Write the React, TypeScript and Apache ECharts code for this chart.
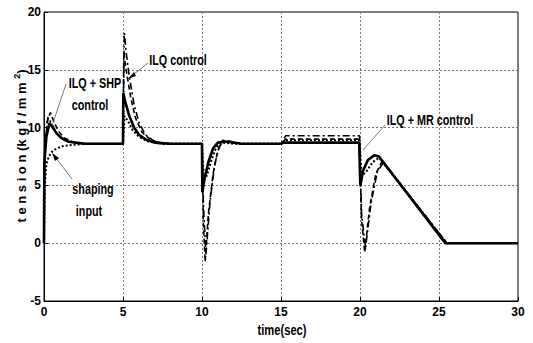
import React, { useEffect, useRef } from "react";
import * as echarts from "echarts";

const xTicks = [0, 5, 10, 15, 20, 25, 30];
const yTicks = [-5, 0, 5, 10, 15, 20];

// solid thick curve
const tSolid = [0, 0.02, 0.15, 0.35, 0.55, 0.8, 1.1, 1.5, 2.0, 2.6, 5.0, 5.02, 5.15, 5.4, 5.7, 6.0, 6.4, 7.0, 8.0, 10.0, 10.02, 10.15, 10.4, 10.7, 11.0, 11.5, 12.5, 15.0, 15.2, 19.95, 20.02, 20.2, 20.5, 20.9, 21.2, 25.4, 30];
const vSolid = [0, 6.9, 9.2, 10.4, 10.0, 9.5, 9.1, 8.8, 8.7, 8.6, 8.6, 13.0, 12.2, 11.0, 10.0, 9.4, 9.0, 8.7, 8.6, 8.6, 4.4, 5.5, 7.0, 8.2, 8.7, 8.8, 8.6, 8.6, 8.7, 8.7, 5.0, 6.3, 7.2, 7.6, 7.5, 0, 0];

// dashed curve
const tDashed = [0, 0.05, 0.2, 0.4, 0.6, 0.9, 1.3, 1.8, 2.5, 5.0, 5.05, 5.2, 5.5, 5.8, 6.2, 6.8, 7.5, 10.0, 10.08, 10.2, 10.4, 10.7, 11.0, 11.3, 11.8, 12.5, 15.0, 15.3, 19.95, 20.1, 20.3, 20.6, 21.0, 21.4, 25.5, 30];
const vDashed = [0, 7.5, 10.5, 11.3, 10.6, 9.7, 9.1, 8.8, 8.6, 8.6, 16.5, 15.0, 12.5, 10.8, 9.6, 8.9, 8.6, 8.6, 2.0, -1.6, 2.5, 6.0, 8.0, 8.9, 8.8, 8.6, 8.6, 9.0, 9.0, 2.0, -0.8, 3.0, 6.0, 7.1, 0, 0];

// dash-dot curve (ILQ control)
const tDashDot = [0, 0.05, 0.25, 0.5, 0.8, 1.2, 1.8, 2.5, 5.0, 5.08, 5.2, 5.4, 5.7, 6.0, 6.4, 7.0, 8.0, 10.0, 10.1, 10.25, 10.5, 10.8, 11.1, 11.5, 12.5, 15.0, 15.3, 19.97, 20.1, 20.35, 20.7, 21.1, 21.5, 25.5, 30];
const vDashDot = [0, 8.5, 10.9, 10.3, 9.5, 9.0, 8.7, 8.6, 8.6, 18.2, 16.5, 14.4, 12.0, 10.5, 9.4, 8.8, 8.6, 8.6, 3.0, -1.0, 3.5, 6.8, 8.4, 8.9, 8.6, 8.6, 9.3, 9.3, 2.5, -0.4, 3.5, 6.2, 7.0, 0, 0];

// dotted curve (shaping input)
const tDotted = [0, 0.05, 0.15, 0.3, 0.5, 0.8, 1.2, 1.8, 2.6, 5.0, 5.1, 5.3, 5.6, 6.0, 6.6, 7.5, 10.0, 10.1, 10.3, 10.6, 10.9, 11.3, 12.0, 15.0, 15.3, 19.97, 20.1, 20.4, 20.8, 21.2, 25.5, 30];
const vDotted = [0, 5.0, 6.8, 7.5, 7.9, 8.2, 8.4, 8.5, 8.6, 8.6, 11.0, 10.6, 9.8, 9.2, 8.8, 8.6, 8.6, 6.0, 5.8, 7.2, 8.3, 8.7, 8.6, 8.6, 8.9, 8.9, 5.8, 6.2, 7.0, 7.4, 0, 0];

const pairs = (t: number[], v: number[]) => t.map((x, i) => [x, v[i]]);

const FONT = "'Liberation Sans', Arial, sans-serif";

export default function App() {
  const ref = useRef<HTMLDivElement>(null);
  useEffect(() => {
    if (!ref.current) return;
    const chart = echarts.init(ref.current, null, { renderer: "svg" });
    const annStyle = { fill: "#000", fontFamily: FONT, fontWeight: "bold" as const, fontSize: 15 };
    const ann = (text: string, x: number, y: number) => ({
      type: "text", x, y, scaleX: 0.72, z: 20,
      style: { text, textAlign: "center", textVerticalAlign: "middle", ...annStyle },
    });
    const lineStyle = { stroke: "#555", lineWidth: 0.8 };
    chart.setOption({
      animation: false,
      backgroundColor: "#fff",
      grid: { left: 44, right: 15, top: 12, bottom: 42, show: true, borderColor: "#000", borderWidth: 1, backgroundColor: "transparent" },
      xAxis: {
        type: "value", min: xTicks[0], max: xTicks[xTicks.length - 1], interval: 5,
        axisLine: { show: true, onZero: false, lineStyle: { color: "#000", width: 1 } },
        axisTick: { show: true, inside: true, length: 4, lineStyle: { color: "#000" } },
        axisLabel: { color: "#000", fontFamily: FONT, fontWeight: "bold", fontSize: 12, margin: 5 },
        splitLine: { show: true, lineStyle: { color: "#777", type: [2, 2], width: 1 } },
      },
      yAxis: {
        type: "value", min: yTicks[0], max: yTicks[yTicks.length - 1], interval: 5,
        axisLine: { show: true, onZero: false, lineStyle: { color: "#000", width: 1 } },
        axisTick: { show: true, inside: true, length: 4, lineStyle: { color: "#000" } },
        axisLabel: { color: "#000", fontFamily: FONT, fontWeight: "bold", fontSize: 12, margin: 3 },
        splitLine: { show: true, lineStyle: { color: "#777", type: [2, 2], width: 1 } },
      },
      series: [
        { type: "line", data: pairs(tDotted, vDotted), showSymbol: false, lineStyle: { color: "#000", width: 2, type: [2, 2] }, z: 2 },
        { type: "line", data: pairs(tDashDot, vDashDot), showSymbol: false, lineStyle: { color: "#000", width: 1.6, type: [7, 3, 2, 3] }, z: 3 },
        { type: "line", data: pairs(tDashed, vDashed), showSymbol: false, lineStyle: { color: "#000", width: 1.6, type: [5, 3] }, z: 4 },
        { type: "line", data: pairs(tSolid, vSolid), showSymbol: false, lineStyle: { color: "#000", width: 2.6 }, z: 5 },
      ],
      graphic: [
        { type: "text", x: 282, y: 331, scaleX: 0.8, style: { text: "time(sec)", textAlign: "center", textVerticalAlign: "middle", ...annStyle, fontSize: 14 } },
        {
          type: "text", x: 21, y: 146, rotation: Math.PI / 2,
          style: {
            text: "t e n s i o n (k g f / m m {sup|2})",
            textAlign: "center", textVerticalAlign: "middle",
            fill: "#000", fontFamily: FONT, fontWeight: "bold", fontSize: 13,
            rich: { sup: { fontSize: 9, fontWeight: "bold", fontFamily: FONT, verticalAlign: "top", padding: [0, 0, 8, 0] } },
          },
        },
        ann("ILQ control", 178, 60),
        ann("ILQ + SHP", 95, 83),
        ann("control", 90, 105),
        ann("shaping", 93, 189),
        ann("input", 89, 211),
        ann("ILQ + MR control", 430, 120),
        { type: "line", shape: { x1: 148, y1: 63, x2: 129, y2: 78 }, style: lineStyle, z: 10 },
        { type: "polygon", shape: { points: [[128, 79], [134, 72], [136, 76]] }, style: { fill: "#000" }, z: 10 },
        { type: "line", shape: { x1: 66, y1: 84, x2: 52, y2: 126 }, style: lineStyle, z: 10 },
        { type: "line", shape: { x1: 72, y1: 179, x2: 53, y2: 154 }, style: lineStyle, z: 10 },
        { type: "polygon", shape: { points: [[52, 153], [55, 161], [59, 158]] }, style: { fill: "#000" }, z: 10 },
        { type: "line", shape: { x1: 385, y1: 125, x2: 363, y2: 150 }, style: lineStyle, z: 10 },
      ],
    });
    return () => chart.dispose();
  }, []);
  return <div ref={ref} style={{ position: "fixed", left: 0, top: 0, width: 533, height: 343, background: "#fff" }} />;
}
